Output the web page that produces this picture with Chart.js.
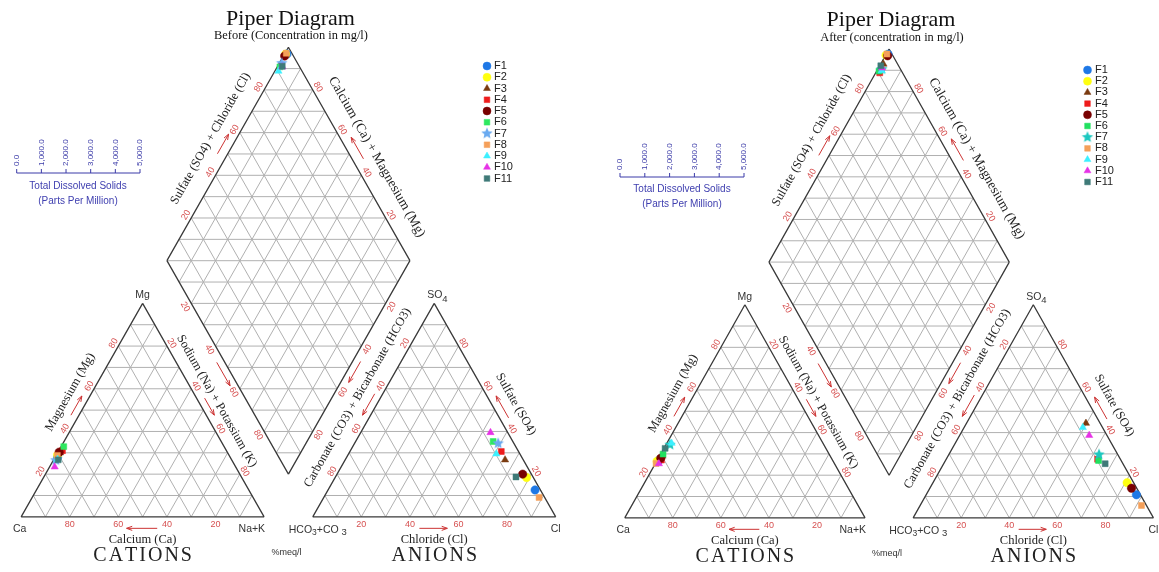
<!DOCTYPE html>
<html>
<head>
<meta charset="utf-8">
<script src="https://cdn.jsdelivr.net/npm/chart.js@4.4.1/dist/chart.umd.min.js"></script>
<style>
  html, body { margin: 0; padding: 0; background: #fff; }
  #wrap { position: relative; width: 1159px; height: 572px; overflow: hidden; }
  .panel { position: absolute; top: 0; height: 572px; }
</style>
</head>
<body>
<div id="wrap">
  <div class="panel" style="left:0;width:580px"><canvas id="before"></canvas></div>
  <div class="panel" style="left:580px;width:579px"><canvas id="after"></canvas></div>
</div>
<script>
// sample names
const samples = ["F1", "F2", "F3", "F4", "F5", "F6", "F7", "F8", "F9", "F10", "F11"];

// Before: % meq/l (Ca = 100 - Mg - NaK, HCO3 = 100 - SO4 - Cl)
const beforeMg  = [28, 29, 30, 31, 30.3, 32.9, 26.5, 28.8, 27, 23.4, 26.7];
const beforeNaK = [1, 0.5, 1, 1.5, 0.5, 1.1, 1, 0.5, 1.5, 2.1, 1.9];
const beforeSO4 = [12.6, 18.4, 26.7, 30.6, 20, 35.3, 34.4, 9.1, 29.5, 39.5, 18.7];
const beforeCl  = [85.2, 78.8, 65.8, 62.3, 76.4, 56.6, 59.1, 88.6, 60.8, 53.4, 74.3];

// After
const afterMg  = [27, 26.6, 29, 27.1, 28, 29.9, 34.3, 25.5, 35, 25.4, 32.6];
const afterNaK = [0.8, 0.2, 1.2, 1.7, 1, 1, 1.7, 0.3, 2, 1.5, 0.5];
const afterSO4 = [10.8, 16.5, 44.4, 27.5, 13.9, 26.9, 29.7, 5.8, 42.4, 38.7, 25.4];
const afterCl  = [87.5, 80.8, 49.7, 63, 83.9, 63.7, 62.5, 92.1, 49.4, 53.9, 67.2];

// axis ticks
const edgeTicks = [20, 40, 60, 80];
const tdsTicks = [0, 1000, 2000, 3000, 4000, 5000];

const beforeColors = ["#1e78e6", "#ffff10", "#7a3b10", "#ee1c1c", "#780000", "#2ee860", "#6aaaf0", "#f5a05a", "#3cf0ff", "#e632e6", "#3f7a78"];
const afterColors  = ["#1e78e6", "#ffff10", "#7a3b10", "#ee1c1c", "#780000", "#22e060", "#1cc8c0", "#f5a05a", "#3cf0ff", "#e632e6", "#3f7a78"];
const markerStyles = ["circle", "circle", "triangle", "rect", "circle", "rect", "star", "rect", "triangle", "triangle", "rect"];

// piper geometry, in percent units
const H = 86.6025;
const CA = [0, 0], NAK = [100, 0], MG = [50, H];
const HC = [120, 0], CL = [220, 0], SO = [170, H];
const DB = [110, 0.2 * H], DL = [60, 1.2 * H], DR = [160, 1.2 * H], DT = [110, 2.2 * H];
const CAT_C = [50, H / 3], AN_C = [170, H / 3], DC = [110, 1.2 * H];

function lerp(a, b, t) { return [a[0] + (b[0] - a[0]) * t, a[1] + (b[1] - a[1]) * t]; }

function cationXY(mg, nak) { return { x: nak + 0.5 * mg, y: H * mg / 100 }; }
function anionXY(so4, cl) { return { x: 120 + cl + 0.5 * so4, y: H * so4 / 100 }; }
function diamondXY(nak, hco3) { return { x: DT[0] + 0.5 * (nak - hco3), y: DT[1] - H * (nak + hco3) / 100 }; }

function triGrid(A, B, C) {
  const V = [A, B, C], segs = [];
  for (let r = 0; r < 3; r++) {
    const p = V[r], q = V[(r + 1) % 3], o = V[(r + 2) % 3];
    for (let k = 1; k < 10; k++) segs.push([lerp(p, o, k / 10), lerp(q, o, k / 10)]);
  }
  return segs;
}
function diamondGrid() {
  const segs = [];
  for (let k = 1; k < 10; k++) {
    segs.push([lerp(DL, DB, k / 10), lerp(DT, DR, k / 10)]);
    segs.push([lerp(DL, DT, k / 10), lerp(DB, DR, k / 10)]);
  }
  for (let j = 1; j < 20; j++) {
    const y = DB[1] + H / 10 * j;
    const hw = j <= 10 ? 5 * j : 5 * (20 - j);
    segs.push([[110 - hw, y], [110 + hw, y]]);
  }
  return segs;
}
function toLine(segs) {
  const out = [];
  segs.forEach(s => { out.push({ x: s[0][0], y: s[0][1] }, { x: s[1][0], y: s[1][1] }, { x: null, y: null }); });
  return out;
}

function starImage(color, r) {
  const c = document.createElement("canvas");
  const s = Math.ceil(r * 2 + 2);
  c.width = c.height = s;
  const g = c.getContext("2d");
  g.fillStyle = color;
  g.beginPath();
  for (let i = 0; i < 10; i++) {
    const a = -Math.PI / 2 + i * Math.PI / 5;
    const rr = i % 2 ? r * 0.45 : r;
    g.lineTo(s / 2 + rr * Math.cos(a), s / 2 + rr * Math.sin(a));
  }
  g.closePath();
  g.fill();
  return c;
}

function markerStyle(style, color) { return style === "star" ? starImage(color, 6) : style; }

function buildDatasets(mg, nak, so4, cl, colors) {
  const grid = toLine([].concat(triGrid(CA, NAK, MG), triGrid(HC, CL, SO), diamondGrid()));
  const outline = toLine([
    [CA, NAK], [NAK, MG], [MG, CA],
    [HC, CL], [CL, SO], [SO, HC],
    [DB, DR], [DR, DT], [DT, DL], [DL, DB]
  ]);
  const sets = [
    { data: grid, showLine: true, pointRadius: 0, borderColor: "#b0b0b0", borderWidth: 1, spanGaps: false, order: 40 },
    { data: outline, showLine: true, pointRadius: 0, borderColor: "#3a3a3a", borderWidth: 1.3, spanGaps: false, order: 39 }
  ];
  samples.forEach((name, i) => {
    const hco3 = 100 - so4[i] - cl[i];
    sets.push({
      label: name,
      data: [cationXY(mg[i], nak[i]), anionXY(so4[i], cl[i]), diamondXY(nak[i], hco3)],
      pointStyle: markerStyle(markerStyles[i], colors[i]),
      pointRadius: 4.2,
      backgroundColor: colors[i],
      borderColor: colors[i],
      borderWidth: 0.5,
      order: 20 - i
    });
  });
  return sets;
}

// label layout along the edges: t along A->B, offsets in px
const edgeSpecs = [
  { A: CA, B: MG, inside: CAT_C, tick: p => p / 100, toff: 5.5, arrow: [0.46, 0.55], aoff: 7, label: "Magnesium (Mg)", lt: 0.54, loff: 19 },
  { A: MG, B: NAK, inside: CAT_C, tick: p => p / 100, toff: 5.5, arrow: [0.46, 0.54], aoff: 7, label: "Sodium (Na) + Potassium (K)", lt: 0.495, loff: 16 },
  { A: CA, B: NAK, inside: CAT_C, tick: p => 1 - p / 100, toff: 7.6, arrow: [0.56, 0.434], aoff: 11.5, label: "Calcium (Ca)", lt: 0.5, loff: 22.6 },
  { A: SO, B: HC, inside: AN_C, tick: p => p / 100, toff: 5.5, arrow: [0.44, 0.54], aoff: 7, label: "Carbonate (CO3) + Bicarbonate (HCO3)", lt: 0.488, loff: 20 },
  { A: CL, B: SO, inside: AN_C, tick: p => p / 100, toff: 5.5, arrow: [0.445, 0.548], aoff: 8, label: "Sulfate (SO4)", lt: 0.479, loff: 21 },
  { A: HC, B: CL, inside: AN_C, tick: p => p / 100, toff: 7.6, arrow: [0.439, 0.554], aoff: 11.5, label: "Chloride (Cl)", lt: 0.5, loff: 22.6 },
  { A: DL, B: DT, inside: DC, tick: p => p / 100, toff: 6, arrow: [0.48, 0.572], aoff: 9, label: "Sulfate (SO4) + Chloride (Cl)", lt: 0.52, loff: 22.5 },
  { A: DT, B: DR, inside: DC, tick: p => 1 - p / 100, toff: 6, arrow: [0.546, 0.445], aoff: 10, label: "Calcium (Ca) + Magnesium (Mg)", lt: 0.566, loff: 22.5, big: true },
  { A: DL, B: DB, inside: DC, tick: p => p / 100, toff: 7, arrow: [0.46, 0.57], aoff: 7 },
  { A: DR, B: DB, inside: DC, tick: p => p / 100, toff: 7, arrow: [0.456, 0.554], aoff: 7 }
];

const SERIF = '"Liberation Serif", "Times New Roman", serif';
const SANS = '"Liberation Sans", Arial, sans-serif';
const RED = "#d65050";

function drawText(ctx, txt, x, y, ang, font, color, align, base) {
  ctx.save();
  ctx.translate(x, y);
  ctx.rotate(ang || 0);
  ctx.font = font;
  ctx.fillStyle = color;
  ctx.textAlign = align || "center";
  ctx.textBaseline = base || "middle";
  ctx.fillText(txt, 0, 0);
  ctx.restore();
}
function drawArrow(ctx, p1, p2, color) {
  const a = Math.atan2(p2[1] - p1[1], p2[0] - p1[0]), h = 6;
  ctx.save();
  ctx.strokeStyle = color;
  ctx.lineWidth = 1;
  ctx.beginPath();
  ctx.moveTo(p1[0], p1[1]); ctx.lineTo(p2[0], p2[1]);
  ctx.moveTo(p2[0], p2[1]); ctx.lineTo(p2[0] - h * Math.cos(a - 0.35), p2[1] - h * Math.sin(a - 0.35));
  ctx.moveTo(p2[0], p2[1]); ctx.lineTo(p2[0] - h * Math.cos(a + 0.35), p2[1] - h * Math.sin(a + 0.35));
  ctx.stroke();
  ctx.restore();
}
function spaced(ctx, txt, cx, y, font, spacing, color) {
  ctx.save();
  ctx.font = font;
  ctx.fillStyle = color;
  ctx.textAlign = "left";
  ctx.textBaseline = "alphabetic";
  const ws = [...txt].map(ch => ctx.measureText(ch).width);
  let x = cx - (ws.reduce((s, w) => s + w, 0) + spacing * (ws.length - 1)) / 2;
  [...txt].forEach((ch, i) => { ctx.fillText(ch, x, y); x += ws[i] + spacing; });
  ctx.restore();
}

function piperPlugin(meta) {
  return {
    id: "piperText",
    afterDatasetsDraw(chart) {
      const ctx = chart.ctx, sx = chart.scales.x, sy = chart.scales.y;
      const P = p => [sx.getPixelForValue(p[0]), sy.getPixelForValue(p[1])];

      edgeSpecs.forEach(e => {
        const a = P(e.A), b = P(e.B), c = P(e.inside);
        let dx = b[0] - a[0], dy = b[1] - a[1];
        const len = Math.hypot(dx, dy);
        dx /= len; dy /= len;
        let nx = -dy, ny = dx;
        const mx = (a[0] + b[0]) / 2, my = (a[1] + b[1]) / 2;
        if ((c[0] - mx) * nx + (c[1] - my) * ny > 0) { nx = -nx; ny = -ny; }
        let ang = Math.atan2(dy, dx);
        if (ang > Math.PI / 2) ang -= Math.PI;
        if (ang < -Math.PI / 2) ang += Math.PI;
        const at = (t, off) => [a[0] + (b[0] - a[0]) * t + nx * off, a[1] + (b[1] - a[1]) * t + ny * off];

        edgeTicks.forEach(p => {
          const q = at(e.tick(p), e.toff);
          drawText(ctx, String(p), q[0], q[1], ang, "9px " + SANS, RED);
        });
        drawArrow(ctx, at(e.arrow[0], e.aoff), at(e.arrow[1], e.aoff), "#cc3333");
        if (e.label) {
          const q = at(e.lt, e.loff);
          drawText(ctx, e.label, q[0], q[1], ang, (e.big ? "13.5px " : "12.5px ") + SERIF, "#222");
        }
      });

      // vertex names
      const vf = "10.5px " + SANS, vc = "#333";
      let v = P(CA); drawText(ctx, "Ca", v[0] - 1.5, v[1] + 12, 0, vf, vc);
      v = P(NAK); drawText(ctx, "Na+K", v[0] + 1, v[1] + 12, 0, vf, vc, "right");
      v = P(MG); drawText(ctx, "Mg", v[0], v[1] - 8, 0, vf, vc);
      v = P(CL); drawText(ctx, "Cl", v[0], v[1] + 12, 0, vf, vc);
      v = P(SO);
      drawText(ctx, "SO", v[0] - 7, v[1] - 8, 0, vf, vc, "left");
      drawText(ctx, "4", v[0] + 8, v[1] - 4, 0, "9.5px " + SANS, vc, "left");
      v = P(HC);
      ctx.save();
      ctx.font = vf;
      let x = v[0] - 24;
      const yb = v[1] + 16;
      const part = (t, f, dy) => { ctx.font = f; ctx.fillStyle = vc; ctx.textAlign = "left"; ctx.textBaseline = "alphabetic"; ctx.fillText(t, x, yb + dy); x += ctx.measureText(t).width; };
      part("HCO", vf, 0); part("3", "8.5px " + SANS, 2); part("+CO ", vf, 0); part("3", "9.5px " + SANS, 2);
      ctx.restore();

      // bottom titles
      let q = P([50, 0]); spaced(ctx, "CATIONS", q[0], q[1] + 44.5, "20px " + SERIF, 2, "#222");
      q = P([170, 0]); spaced(ctx, "ANIONS", q[0], q[1] + 44.5, "20px " + SERIF, 2, "#222");
      q = P([110, 0]); drawText(ctx, "%meq/l", q[0] - 2, q[1] + 36, 0, "9px " + SANS, "#333");

      // titles
      drawText(ctx, "Piper Diagram", meta.title[0], meta.title[1], 0, "22px " + SERIF, "#111", "center", "alphabetic");
      drawText(ctx, meta.subtitle, meta.sub[0], meta.sub[1], 0, "12.4px " + SERIF, "#111", "center", "alphabetic");

      // legend
      const lg = meta.legend;
      chart.data.datasets.slice(2).forEach((ds, i) => {
        const y = lg.y0 + i * lg.step;
        ctx.save();
        ctx.fillStyle = ds.backgroundColor;
        ctx.strokeStyle = ds.borderColor;
        ctx.lineWidth = 0.5;
        Chart.helpers.drawPoint(ctx, { pointStyle: ds.pointStyle, radius: 4, rotation: 0, borderWidth: 0.5 }, lg.mx, y);
        ctx.restore();
        drawText(ctx, ds.label, lg.tx, y, 0, "11px " + SANS, "#222", "left");
      });

      // TDS scale
      const t = meta.tds, blue = "#3b3ba8";
      ctx.save();
      ctx.strokeStyle = blue;
      ctx.lineWidth = 1;
      ctx.beginPath();
      ctx.moveTo(t.x0, t.y); ctx.lineTo(t.x1, t.y);
      tdsTicks.forEach((val, i) => {
        const tx = t.x0 + (t.x1 - t.x0) * i / (tdsTicks.length - 1);
        ctx.moveTo(tx, t.y); ctx.lineTo(tx, t.y - 4);
      });
      ctx.stroke();
      ctx.restore();
      tdsTicks.forEach((val, i) => {
        const tx = t.x0 + (t.x1 - t.x0) * i / (tdsTicks.length - 1);
        const lab = val.toLocaleString("en-US", { minimumFractionDigits: 1, maximumFractionDigits: 1 });
        drawText(ctx, lab, tx, t.y - 7, -Math.PI / 2, "8px " + SANS, blue, "left");
      });
      drawText(ctx, "Total Dissolved Solids", t.cx, t.t1, 0, "10px " + SANS, "#4040b0");
      drawText(ctx, "(Parts Per Million)", t.cx, t.t2, 0, "10px " + SANS, "#4040b0");
    }
  };
}

function makePanel(id, sets, range, meta) {
  return new Chart(document.getElementById(id), {
    type: "scatter",
    data: { datasets: sets },
    options: {
      responsive: true,
      maintainAspectRatio: false,
      animation: false,
      events: [],
      layout: { padding: 0 },
      plugins: { legend: { display: false }, tooltip: { enabled: false }, title: { display: false } },
      scales: {
        x: { type: "linear", display: false, min: range.x[0], max: range.x[1] },
        y: { type: "linear", display: false, min: range.y[0], max: range.y[1] }
      }
    },
    plugins: [piperPlugin(meta)]
  });
}

makePanel("before",
  buildDatasets(beforeMg, beforeNaK, beforeSO4, beforeCl, beforeColors),
  { x: [-16.7 / 2.47, (580 - 16.7) / 2.47], y: [(520.7 - 572) / 2.506, 520.7 / 2.506] },
  {
    title: [290.5, 25], subtitle: "Before (Concentration in mg/l)", sub: [291, 38.5],
    legend: { mx: 487, tx: 494, y0: 66, step: 11.25 },
    tds: { x0: 16.7, x1: 140, y: 173, cx: 78, t1: 186, t2: 201 }
  });

makePanel("after",
  buildDatasets(afterMg, afterNaK, afterSO4, afterCl, afterColors),
  { x: [(580 - 620.7) / 2.443, (1159 - 620.7) / 2.443], y: [(521.7 - 572) / 2.502, 521.7 / 2.502] },
  {
    title: [311, 26], subtitle: "After (concentration in mg/l)", sub: [312, 40.5],
    legend: { mx: 507.5, tx: 515, y0: 70, step: 11.2 },
    tds: { x0: 40, x1: 164, y: 177, cx: 102, t1: 189, t2: 204 }
  });
</script>
</body>
</html>
